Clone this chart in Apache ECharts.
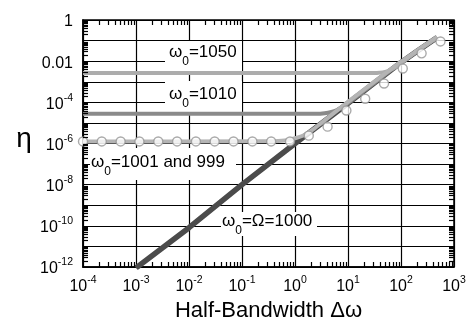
<!DOCTYPE html>
<html><head><meta charset="utf-8">
<script src="https://cdn.jsdelivr.net/npm/echarts@6/dist/echarts.min.js"></script>
<style>html,body{margin:0;padding:0;background:#fff}#c{width:476px;height:329px}</style>
</head><body><div id="c"></div>
<script>
// ---- tick labels ----
const xTickExponents = [-4, -3, -2, -1, 0, 1, 2, 3];
const yLabelExponents = [0, -2, -4, -6, -8, -10, -12];
const yLabelTexts = ['1', '0.01', '10^-4', '10^-6', '10^-8', '10^-10', '10^-12'];
const xTitle = 'Half-Bandwidth Δω';
const yTitle = 'η';

// ---- curves ----
const bw1000  = [1e-3, 1e-2, 0.1, 1, 10, 100, 200, 480];
const eta1000 = [9e-13, 8.1e-11, 1e-8, 1e-6, 9e-5, 8.7e-3, 3e-2, 0.14];

const bw1001  = [1e-4, 0.25, 0.4, 0.7, 1, 1.5, 2.2, 3, 10, 100, 200, 480];
const eta1001 = [1.26e-6, 1.27e-6, 1.3e-6, 1.45e-6, 1.8e-6, 2.6e-6, 4.8e-6, 9e-6, 1.05e-4, 9.5e-3, 3.2e-2, 0.15];

const bw1010  = [1e-4, 2.2, 3, 4.2, 5.5, 7, 8.5, 10, 30, 100, 200, 480];
const eta1010 = [2.75e-5, 2.76e-5, 2.82e-5, 3.1e-5, 3.7e-5, 5e-5, 6.7e-5, 9e-5, 8e-4, 8.7e-3, 3e-2, 0.14];

const bw1050  = [1e-4, 25, 35, 45, 55, 65, 80, 100, 200, 480];
const eta1050 = [2.63e-3, 2.64e-3, 2.68e-3, 2.85e-3, 3.2e-3, 3.9e-3, 5.2e-3, 8e-3, 3.1e-2, 0.14];

// open-circle markers
const bwMarks  = [1.0e-4, 2.26e-4, 5.13e-4, 1.16e-3, 2.63e-3, 5.96e-3, 1.35e-2, 3.05e-2, 6.92e-2, 0.157,
                  0.355, 0.804, 1.82, 4.12, 9.33, 21.1, 47.9, 108, 245, 556];
const etaMarks = [1.26e-6, 1.26e-6, 1.26e-6, 1.26e-6, 1.26e-6, 1.26e-6, 1.26e-6, 1.26e-6, 1.26e-6, 1.26e-6,
                  1.26e-6, 1.26e-6, 2.4e-6, 6.6e-6, 4.0e-5, 1.5e-4, 8.2e-4, 4.4e-3, 2.4e-2, 9.1e-2];

// ---- annotations ----
const annotations = [
  {sym: 'ω', sub: '0', rest: '=1050'},
  {sym: 'ω', sub: '0', rest: '=1010'},
  {sym: 'ω', sub: '0', rest: '=1001 and 999'},
  {sym: 'ω', sub: '0', rest: '=Ω=1000'}
];

const FF = '"Liberation Sans", Arial, Helvetica, sans-serif';
const pairs = (xs, ys) => xs.map((x, i) => [x, ys[i]]);
const minorMult = [2, 3, 4, 5, 6, 7, 8, 9];

const supRich = {
  b: {fontSize: 16, fontFamily: FF, color: '#000', lineHeight: 20, verticalAlign: 'bottom'},
  s: {fontSize: 10.5, fontFamily: FF, color: '#000', lineHeight: 20, verticalAlign: 'top'}
};
const subRich = {
  a: {fontSize: 17, fontFamily: FF, color: '#111', lineHeight: 24, verticalAlign: 'top'},
  s: {fontSize: 12, fontFamily: FF, color: '#111', lineHeight: 24, verticalAlign: 'bottom'}
};
function supText(t) {
  const i = t.indexOf('^');
  if (i < 0) return '{b|' + t + '}';
  return '{b|' + t.slice(0, i) + '}{s|' + t.slice(i + 1) + '}';
}
function annText(a) { return '{a|' + a.sym + '}{s|' + a.sub + '}{a|' + a.rest + '}'; }

const boxes = [
  {x: 165, y: 41, w: 77, h: 32, tx: 169, ty: 44},
  {x: 165, y: 81, w: 77, h: 33, tx: 169, ty: 86},
  {x: 90, y: 148, w: 146, h: 32, tx: 91, ty: 154},
  {x: 221, y: 212, w: 96, h: 24, tx: 222, ty: 213}
];
const graphic = [];
boxes.forEach((b, i) => {
  graphic.push({type: 'rect', silent: true, z: 1, shape: {x: b.x, y: b.y, width: b.w, height: b.h}, style: {fill: '#fff'}});
  graphic.push({type: 'text', silent: true, z: 1, x: b.tx, y: b.ty,
    style: {text: annText(annotations[i]), rich: subRich, align: 'left', verticalAlign: 'top'}});
});
graphic.push({type: 'text', silent: true, z: 1, x: 24, y: 139,
  style: {text: yTitle, fontSize: 28, fontFamily: FF, fill: '#000', align: 'center', verticalAlign: 'middle'}});

const lineBase = {type: 'line', showSymbol: false, smooth: 0.15};

const chart = echarts.init(document.getElementById('c'), null, {renderer: 'canvas'});
chart.setOption({
  animation: false,
  backgroundColor: '#fff',
  grid: {left: 83, right: 22, top: 20, bottom: 62, show: true, borderColor: '#000', borderWidth: 1.5, backgroundColor: 'transparent'},
  xAxis: {
    type: 'log', logBase: 10, min: 1e-4, max: 1e3, interval: 1,
    axisLine: {show: true, lineStyle: {color: '#000', width: 1.5}},
    axisTick: {show: false},
    splitLine: {show: true, lineStyle: {color: '#000', width: 1.2}},
    axisLabel: {
      margin: 8, rich: supRich,
      formatter: v => {
        const e = Math.round(Math.log10(v));
        return xTickExponents.indexOf(e) >= 0 ? supText('10^' + e) : '';
      }
    },
    name: xTitle, nameLocation: 'middle', nameGap: 29,
    nameTextStyle: {fontSize: 22, fontFamily: FF, color: '#000'}
  },
  yAxis: {
    type: 'log', logBase: 10, min: 1e-12, max: 1, interval: 1,
    axisLine: {show: true, lineStyle: {color: '#000', width: 1.5}},
    axisTick: {show: false},
    splitLine: {show: true, lineStyle: {color: '#000', width: 1.2}},
    axisLabel: {
      margin: 10, rich: supRich,
      formatter: v => {
        const e = Math.round(Math.log10(v));
        const k = yLabelExponents.indexOf(e);
        return k >= 0 ? supText(yLabelTexts[k]) : '';
      }
    }
  },
  graphic: graphic,
  series: [
    Object.assign({}, lineBase, {data: pairs(bw1000, eta1000), smooth: false, lineStyle: {color: '#4b4b4b', width: 5.5}}),
    Object.assign({}, lineBase, {data: pairs(bw1010, eta1010), lineStyle: {color: '#8a8a8a', width: 4}}),
    Object.assign({}, lineBase, {data: pairs(bw1050, eta1050), lineStyle: {color: '#acacac', width: 4}}),
    Object.assign({}, lineBase, {data: pairs(bw1001, eta1001), lineStyle: {color: '#b4b4b4', width: 4}}),
    {type: 'scatter', data: pairs(bwMarks, etaMarks), symbol: 'circle', symbolSize: 9,
     itemStyle: {color: '#fff', borderColor: '#959595', borderWidth: 1.4}, z: 4},
    {type: 'custom', silent: true, z: 5, clip: false, data: [[1, 1]],
     renderItem: (params, api) => {
       const cs = params.coordSys;
       const L = cs.x, T = cs.y, R = cs.x + cs.width, B = cs.y + cs.height;
       const ch = [];
       const st = {stroke: '#000', lineWidth: 1.2};
       for (let d = -4; d < 3; d++) {
         minorMult.forEach(m => {
           const px = Math.round(api.coord([m * Math.pow(10, d), 1e-6])[0]) + 0.5;
           ch.push({type: 'line', shape: {x1: px, y1: B, x2: px, y2: B - 5}, style: st});
           ch.push({type: 'line', shape: {x1: px, y1: T, x2: px, y2: T + 5}, style: st});
         });
       }
       for (let d = -12; d < 0; d++) {
         minorMult.forEach(m => {
           const py = Math.round(api.coord([1, m * Math.pow(10, d)])[1]) + 0.5;
           ch.push({type: 'line', shape: {x1: L, y1: py, x2: L + 5, y2: py}, style: st});
           ch.push({type: 'line', shape: {x1: R, y1: py, x2: R - 5, y2: py}, style: st});
         });
       }
       return {type: 'group', children: ch};
     }}
  ]
});
</script>
</body></html>
